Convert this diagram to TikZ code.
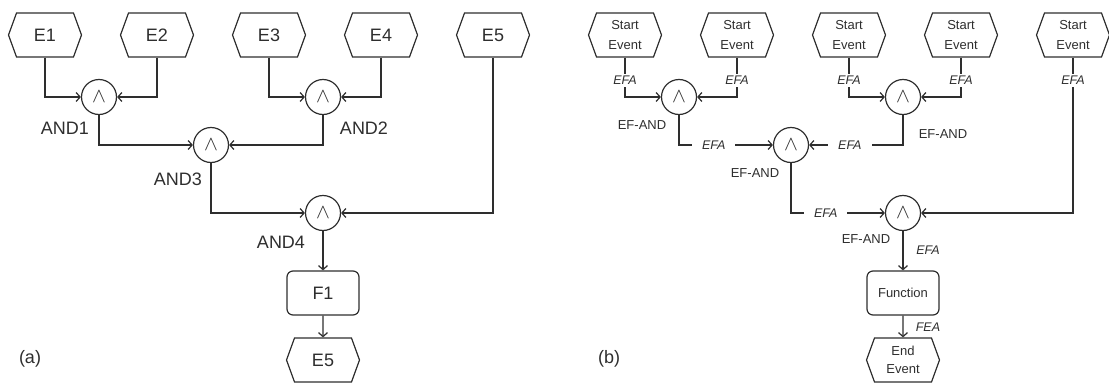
\documentclass[tikz,border=0pt]{standalone}
\usepackage{fontspec}
\setmainfont{Liberation Sans}
\usetikzlibrary{shapes.symbols,arrows.meta}
\definecolor{ink}{HTML}{2E2E2E}
\tikzset{
  event/.style={draw=ink, line width=1.2pt, signal, signal to=west and east,
    signal pointer angle=140, minimum width=73pt, minimum height=44pt,
    inner sep=0pt, text=ink, font=\fontsize{18}{20}\selectfont},
  sevent/.style={event, align=center, font=\fontsize{13}{20}\selectfont},
  func/.style={draw=ink, line width=1.2pt, rounded corners=6pt,
    minimum width=72pt, minimum height=44pt, text=ink},
  andop/.style={draw=ink, line width=1.2pt, circle, minimum size=35pt,
    inner sep=0pt, text=ink, font=\fontsize{20}{20}\selectfont},
  conn/.style={draw=ink, line width=1.2pt, -{Straight Barb[length=4pt,width=9pt]}},
  wire/.style={draw=ink, line width=1.2pt},
  opname/.style={text=ink, inner sep=0pt, font=\fontsize{18}{20}\selectfont},
  efname/.style={text=ink, inner sep=0pt, font=\fontsize{13}{15}\selectfont},
  efa/.style={fill=white, text=ink, inner xsep=10pt, inner ysep=2pt,
    font=\fontsize{12.5}{15}\selectfont\itshape},
}
\begin{document}
\begin{tikzpicture}[x=1pt,y=-1pt]
  \useasboundingbox (0,0) rectangle (1109,388);

  %(a) Events and operators
  \node[event] (e1) at (45,35) {E1};
  \node[event] (e2) at (157,35) {E2};
  \node[event] (e3) at (269,35) {E3};
  \node[event] (e4) at (381,35) {E4};
  \node[event] (e5) at (493,35) {E5};
  \node[andop] (and1) at (99,97) {$\wedge$};
  \node[andop] (and2) at (323,97) {$\wedge$};
  \node[andop] (and3) at (211,145) {$\wedge$};
  \node[andop] (and4) at (323,213) {$\wedge$};
  \node[func, font=\fontsize{18}{20}\selectfont] (f1) at (323,293) {F1};
  \node[event] (e6) at (323,360) {E5};

  \node[opname] (l1) at (65,128) {AND1};
  \node[opname] (l2) at (364,128) {AND2};
  \node[opname] (l3) at (178,179) {AND3};
  \node[opname] (l4) at (281,242) {AND4};
  \node[opname] (cap1) at (30,359) {(a)};

  %(a) Flows
  \draw[conn] (e1) |- (and1);
  \draw[conn] (e2) |- (and1);
  \draw[conn] (e3) |- (and2);
  \draw[conn] (e4) |- (and2);
  \draw[conn] (and1) |- (and3);
  \draw[conn] (and2) |- (and3);
  \draw[conn] (and3) |- (and4);
  \draw[conn] (e5) |- (and4);
  \draw[conn] (and4) -- (f1);
  \draw[conn] (f1) -- (e6);

  %(b) Events and operators
  \node[sevent] (s1) at (625,35) {Start\\Event};
  \node[sevent] (s2) at (737,35) {Start\\Event};
  \node[sevent] (s3) at (849,35) {Start\\Event};
  \node[sevent] (s4) at (961,35) {Start\\Event};
  \node[sevent] (s5) at (1073,35) {Start\\Event};
  \node[andop] (bnd1) at (679,97) {$\wedge$};
  \node[andop] (bnd2) at (903,97) {$\wedge$};
  \node[andop] (bnd3) at (791,145) {$\wedge$};
  \node[andop] (bnd4) at (903,213) {$\wedge$};
  \node[func, font=\fontsize{13}{15}\selectfont] (fn) at (903,293) {Function};
  \node[sevent, font=\fontsize{13}{18}\selectfont] (ee) at (903,360) {End\\Event};

  \node[efname] (m1) at (642,125) {EF-AND};
  \node[efname] (m2) at (943,134) {EF-AND};
  \node[efname] (m3) at (755,173) {EF-AND};
  \node[efname] (m4) at (866,239) {EF-AND};
  \node[opname] (cap2) at (609,359) {(b)};

  %(b) Flows
  \draw[conn] (s1) |- node[efa, pos=0.29] {EFA} (bnd1);
  \draw[conn] (s2) |- node[efa, pos=0.29] {EFA} (bnd1);
  \draw[conn] (s3) |- node[efa, pos=0.29] {EFA} (bnd2);
  \draw[conn] (s4) |- node[efa, pos=0.29] {EFA} (bnd2);
  \draw[conn] (s5) |- node[efa, pos=0.074] {EFA} (bnd4);
  \draw[conn] (bnd1) |- node[efa, pos=0.685] {EFA} (bnd3);
  \draw[conn] (bnd2) |- node[efa, pos=0.783] {EFA} (bnd3);
  \draw[conn] (bnd3) |- node[efa, pos=0.685] {EFA} (bnd4);
  \draw[conn] (bnd4) -- (fn);
  \draw[conn] (fn) -- (ee);
  \node[efa, fill=none, inner sep=0pt] (t1) at (928,250) {EFA};
  \node[efa, fill=none, inner sep=0pt] (t2) at (928,327) {FEA};

\end{tikzpicture}
\end{document}
